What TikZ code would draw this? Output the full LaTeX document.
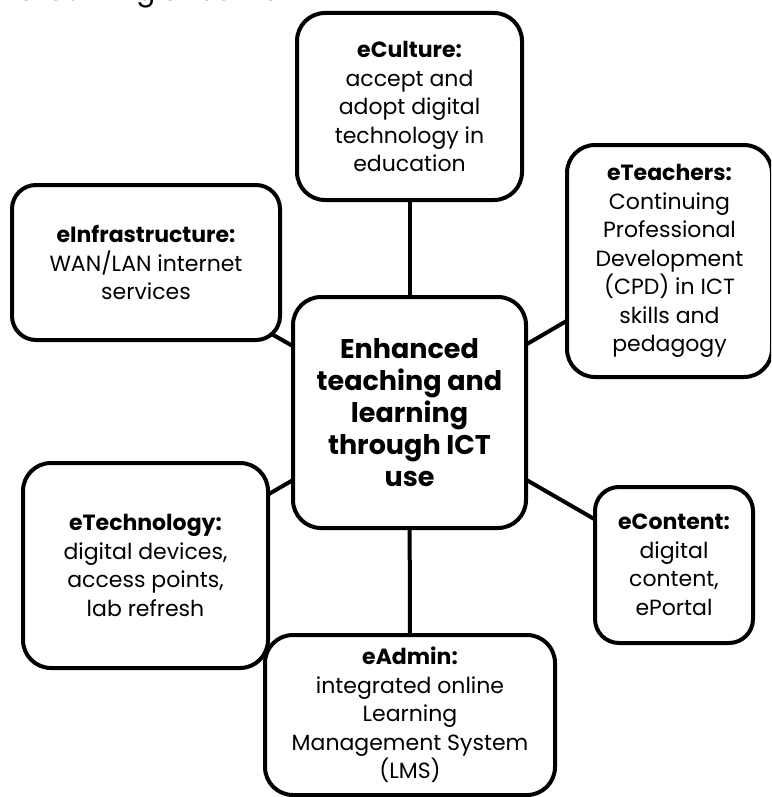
\documentclass[tikz,border=0pt]{standalone}
\usepackage{fontspec}
\setmainfont{Poppins}
\usetikzlibrary{backgrounds}
\begin{document}
\begin{tikzpicture}[x=1pt,y=-1pt,
 box/.style={draw=black, line width=4pt, rounded corners=28pt, fill=white, align=center, inner sep=0pt, font=\fontsize{22}{28.5}\selectfont},
 hub/.style={box, font=\fontsize{27}{32}\selectfont\bfseries},
 link/.style={line width=4pt, draw=black}]
\useasboundingbox (0,0) rectangle (771,797);
\clip (0,0) rectangle (771,797);
\node[anchor=base east, inner sep=0pt, font=\fontsize{28}{30}\selectfont] (title) at (278,1) {eLearning streams};
\node[hub, minimum width=233pt, minimum height=231pt] (c) at (409.5,412.5) {Enhanced\\teaching and\\learning\\through ICT\\use};
\node[box, minimum width=225pt, minimum height=187pt] (cult) at (409.5,106.5) {\textbf{eCulture:}\\accept and\\adopt digital\\technology in\\education};
\node[box, minimum width=205pt, minimum height=232pt] (teach) at (669.5,261) {\textbf{eTeachers:}\\Continuing\\Professional\\Development\\(CPD) in ICT\\skills and\\pedagogy};
\node[box, minimum width=268pt, minimum height=155pt, rounded corners=24pt] (infra) at (146,262.5) {\textbf{eInfrastructure:}\\WAN/LAN internet\\services};
\node[box, minimum width=245pt, minimum height=205pt] (tech) at (145.5,565.5) {\textbf{eTechnology:}\\digital devices,\\access points,\\lab refresh};
\node[box, minimum width=158pt, minimum height=156pt, rounded corners=24pt] (cont) at (674,565) {\textbf{eContent:}\\digital\\content,\\ePortal};
\node[box, minimum width=290pt, minimum height=160pt] (admin) at (410,715) {\textbf{eAdmin:}\\integrated online\\Learning\\Management System\\(LMS)};
\begin{scope}[on background layer]
\draw[link] (c.center) -- (cult.center);
\draw[link] (c.center) -- (teach.center);
\draw[link] (c.center) -- (infra.center);
\draw[link] (c.center) -- (tech.center);
\draw[link] (c.center) -- (cont.center);
\draw[link] (c.center) -- (admin.center);
\end{scope}
\end{tikzpicture}
\end{document}
